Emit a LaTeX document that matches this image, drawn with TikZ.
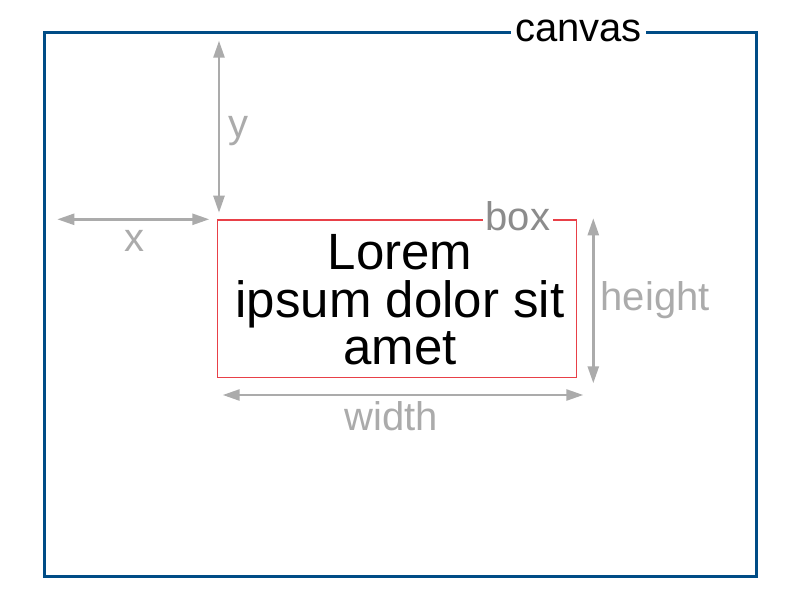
\documentclass[tikz,border=0pt]{standalone}
\usepackage{fontspec}
\setmainfont{Liberation Sans}
\usetikzlibrary{arrows.meta}

\definecolor{canvasblue}{RGB}{0,76,134}
\definecolor{boxred}{RGB}{232,64,72}
\definecolor{dimgray}{RGB}{171,171,171}
\definecolor{taggray}{RGB}{140,140,140}

\tikzset{
  dimline/.style={draw=dimgray, line width=2.5pt,
    {Triangle[length=17pt,width=11pt]}-{Triangle[length=17pt,width=11pt]}},
  dimlabel/.style={text=dimgray, inner sep=0pt, font=\fontsize{40}{48}\selectfont},
  tag/.style={fill=white, inner xsep=4pt, inner ysep=0pt, font=\fontsize{40}{48}\selectfont}
}

\begin{document}
\begin{tikzpicture}[x=1pt,y=-1pt]
\useasboundingbox (0,0) rectangle (807,608);

% canvas
\node [draw=canvasblue, line width=3pt, inner sep=0pt, minimum width=712.7pt, minimum height=543.8pt] (canvas) at (400.35,304.6) {};
\node [tag, anchor=base] (canvaslabel) at (578.4,41.7) {canvas};

% box
\node [draw=boxred, line width=1.5pt, inner sep=0pt, minimum width=359.4pt, minimum height=157.3pt] (box) at (397,298.7) {};
\node [tag, text=taggray, anchor=base, inner xsep=2.75pt] (boxlabel) at (518,230) {box};
\node [align=center, inner sep=0pt, font=\fontsize{51}{47.7}\selectfont] (lorem) at (400,300) {Lorem\\ipsum dolor sit\\amet};

% y offset
\coordinate (ytop) at (219,40.7);
\coordinate (ybot) at (219,212.7);
\draw [dimline] (ytop) -- (ybot);
\node [dimlabel, anchor=base west] (ylabel) at (228,137) {y};

% x offset
\coordinate (xleft) at (57.3,219.3);
\coordinate (xright) at (209.3,219.3);
\draw [dimline] (xleft) -- (xright);
\node [dimlabel, anchor=base] (xlabel) at (134.2,251.7) {x};

% width
\coordinate (wleft) at (222.7,395);
\coordinate (wright) at (583.3,395);
\draw [dimline] (wleft) -- (wright);
\node [dimlabel, anchor=base] (wlabel) at (391.2,430.7) {width};

% height
\coordinate (htop) at (593.3,218.3);
\coordinate (hbot) at (593.3,383.3);
\draw [dimline] (htop) -- (hbot);
\node [dimlabel, anchor=base west] (hlabel) at (600.5,310) {height};

\end{tikzpicture}
\end{document}
